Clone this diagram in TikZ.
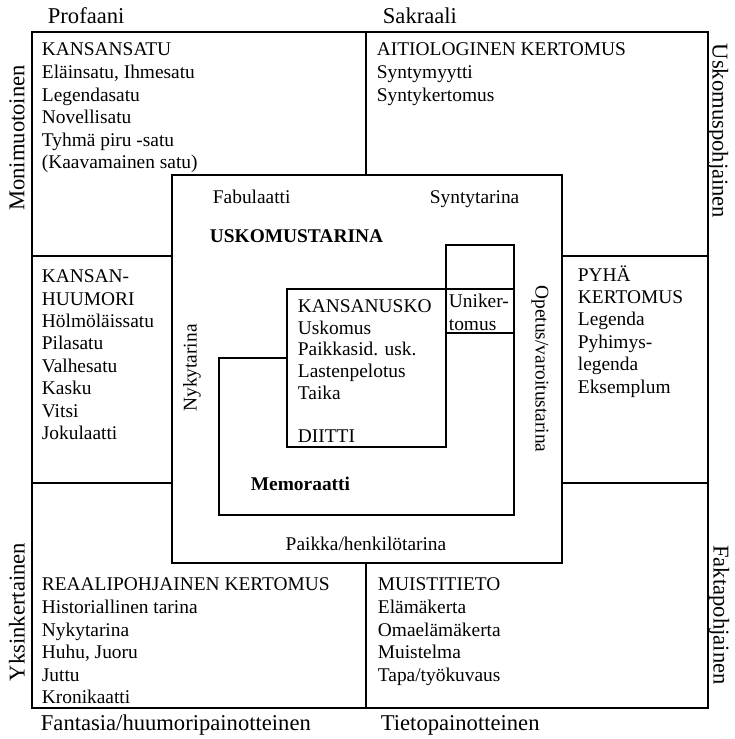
\documentclass[tikz,border=0pt]{standalone}
\usepackage{fontspec}
\setmainfont{Liberation Serif}
\usetikzlibrary{positioning}

\begin{document}
\begin{tikzpicture}[x=1pt, y=-1pt, line width=1.8pt,
  every node/.style={inner sep=0pt},
  axis/.style={font=\fontsize{22.6}{26}\selectfont},
  tag/.style={font=\fontsize{19.4}{23}\selectfont, anchor=base west},
  genre/.style={font=\fontsize{19.4}{22.6}\selectfont, align=left, anchor=north west}]
\useasboundingbox (0,0) rectangle (734,739);

% frame and quadrants
\draw (32,32) rectangle (708,708);
\draw (366,32) -- (366,175);
\draw (366,563) -- (366,708);
\draw (32,256) -- (172,256);
\draw (32,483) -- (172,483);
\draw (562,256) -- (708,256);
\draw (562,483) -- (708,483);
% uskomustarina, kansanusko, unikertomus, memoraatti
\draw (172,175) rectangle (562,563);
\draw (287,289) rectangle (446,447);
\draw (446,245) rectangle (514,333);
\draw (446,289) -- (514,289);
\draw (287,358) -| (219,515) -| (514,333);

% axes
\node[axis, anchor=base west] (prof) at (47,23) {Profaani};
\node[axis, anchor=base west] (sakr) at (382,23) {Sakraali};
\node[axis, anchor=base west] (fant) at (40,730) {Fantasia/huumoripainotteinen};
\node[axis, anchor=base west] (tieto) at (380,730) {Tietopainotteinen};
\node[axis, rotate=90] (moni) at (17,138) {Monimuotoinen};
\node[axis, rotate=90] (yksi) at (17,612) {Yksinkertainen};
\node[axis, rotate=-90] (usko) at (718,131) {Uskomuspohjainen};
\node[axis, rotate=-90] (fakta) at (719,615) {Faktapohjainen};

% genres
\node[genre] (satu) at (41,42.2) {KANSANSATU\\Eläinsatu, Ihmesatu\\Legendasatu\\Novellisatu\\Tyhmä piru -satu\\(Kaavamainen satu)};
\node[genre] (aitio) at (376,42.2) {AITIOLOGINEN KERTOMUS\\Syntymyytti\\Syntykertomus};
\node[genre, font=\fontsize{19.4}{22.4}\selectfont] (huumori) at (41,269) {KANSAN-\\HUUMORI\\Hölmöläissatu\\Pilasatu\\Valhesatu\\Kasku\\Vitsi\\Jokulaatti};
\node[genre, font=\fontsize{19.4}{22.4}\selectfont] (pyha) at (577,264.5) {PYHÄ\\KERTOMUS\\Legenda\\Pyhimys-\\legenda\\Eksemplum};
\node[genre] (reaali) at (41,577.2) {REAALIPOHJAINEN KERTOMUS\\Historiallinen tarina\\Nykytarina\\Huhu, Juoru\\Juttu\\Kronikaatti};
\node[genre] (muisti) at (377,577.2) {MUISTITIETO\\Elämäkerta\\Omaelämäkerta\\Muistelma\\Tapa/työkuvaus};
\node[genre, font=\fontsize{19.4}{21.6}\selectfont] (kusko) at (297,299) {KANSANUSKO\\Uskomus\\Paikkasid. usk.\\Lastenpelotus\\Taika\\[21.6pt]DIITTI};
\node[genre, font=\fontsize{19.4}{22.3}\selectfont] (uni) at (448,293.5) {Uniker-\\tomus};

% inner labels
\node[tag] (fabu) at (212,203) {Fabulaatti};
\node[tag] (synty) at (429,203) {Syntytarina};
\node[tag, font=\fontsize{19.4}{23}\selectfont\bfseries] (ustar) at (209,242) {USKOMUSTARINA};
\node[tag, font=\fontsize{19.4}{23}\selectfont\bfseries] (memo) at (250,490) {Memoraatti};
\node[tag, anchor=base] (paikka) at (366,550) {Paikka/henkilötarina};
\node[tag, anchor=center, rotate=90] (nyky) at (192,368) {Nykytarina};
\node[tag, anchor=center, rotate=-90] (opetus) at (540,369) {Opetus/varoitustarina};
\end{tikzpicture}
\end{document}
